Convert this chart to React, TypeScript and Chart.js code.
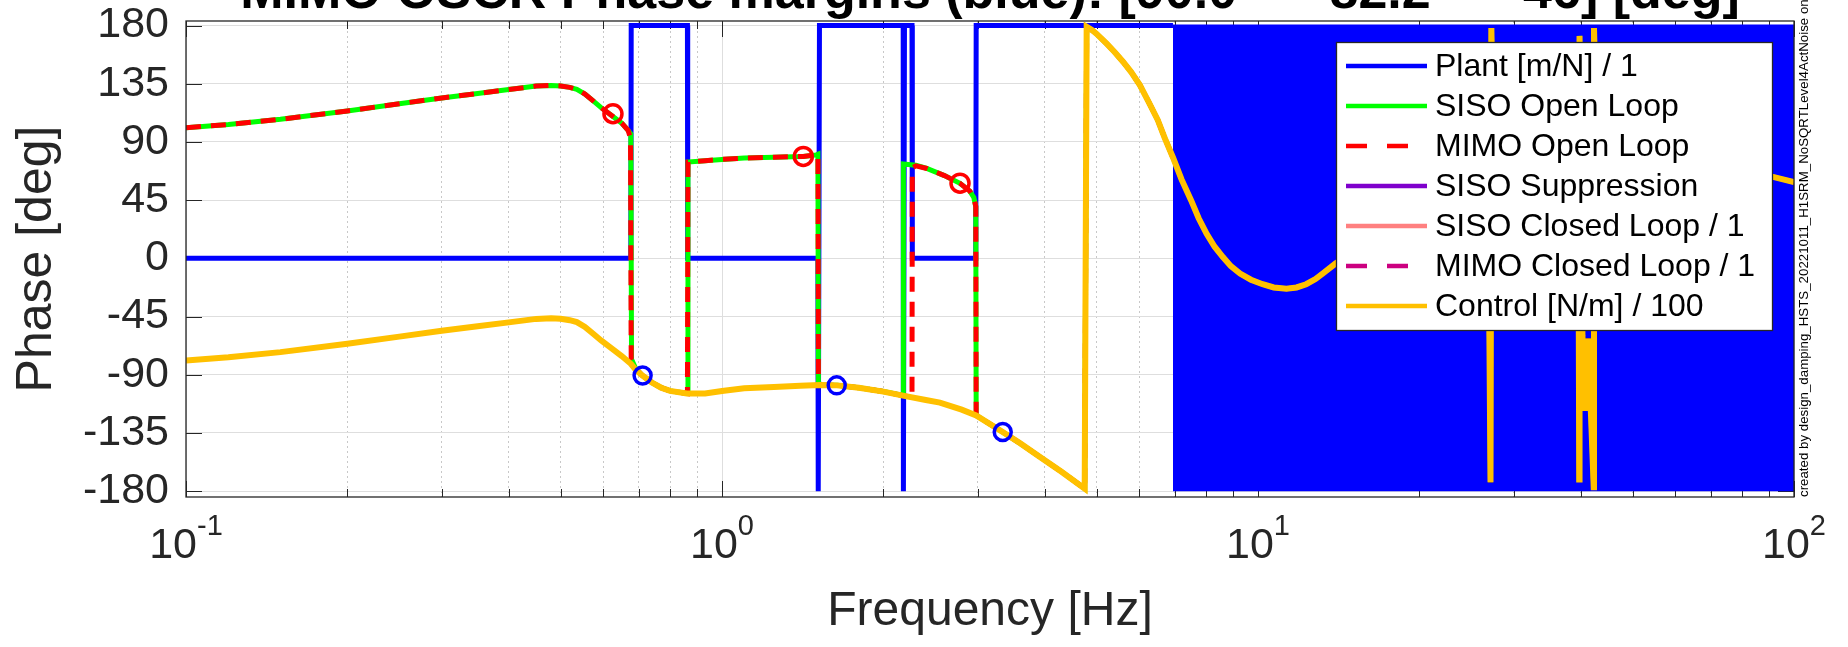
import React, { useEffect, useRef } from 'react';
import { Chart, registerables } from 'chart.js';

Chart.register(...registerables);

const FONT = "'Liberation Sans', Arial, Helvetica, sans-serif";
const INK = '#262626';

// ---------- data (frequency in Hz, phase in deg) ----------
const plantFreq = [0.1, 0.676, 0.677, 0.862, 0.863, 1.51, 1.512, 1.52, 2.178, 2.18, 2.19, 2.262, 2.265, 2.975, 2.98, 6.94];
const plantPhase = [0, 0, 180, 180, 0, 0, -180, 180, 180, -180, 180, 180, 0, 0, 180, 180];

// plant phase wraps between +180 and -180 densely above ~7 Hz
const plantWrapFreq = [6.94, 100];
const plantWrapTop = [180, 180];
const plantWrapBottom = -180;

const controlFreq = [0.1, 0.12, 0.15, 0.2, 0.25, 0.3, 0.35, 0.4, 0.45, 0.48, 0.5, 0.52, 0.536, 0.555, 0.575, 0.595, 0.618, 0.65, 0.676, 0.69, 0.71, 0.74, 0.77, 0.8, 0.86, 0.93, 1.0, 1.1, 1.25, 1.4, 1.52, 1.64, 1.8, 2.0, 2.2, 2.4, 2.55, 2.8, 2.98, 3.34, 3.6, 3.92, 4.3, 4.75, 4.79, 4.9, 5.0, 5.22, 5.4, 5.6, 5.8, 6.02, 6.25, 6.5, 6.7, 6.94, 7.2, 7.5, 7.75, 8.02, 8.3, 8.6, 8.9, 9.26, 9.7, 10.2, 10.7, 11.3, 11.8, 12.3, 12.8, 13.2, 13.95, 16, 20, 24, 26.9, 27.15, 27.25, 27.6, 32, 36, 39.6, 39.75, 39.8, 40.3, 40.8, 41.3, 41.8, 42.3, 42.35, 43, 50, 60, 75, 91.4, 100];
const controlPhase = [-79, -76.5, -72.5, -66, -60.5, -56, -52.5, -49.5, -46.8, -46.3, -46.7, -47.8, -49.3, -53, -58.3, -63.5, -68.6, -75.5, -81.5, -86, -90.5, -96, -100, -102.5, -104.5, -104.5, -102.5, -100.5, -99.5, -98.5, -98, -98.2, -100, -103, -106.5, -109.5, -111.5, -117, -121.4, -134.3, -143, -153.6, -165, -178, 179, 176.5, 173.5, 166, 159.5, 152, 144, 134, 121, 107, 93, 78, 61, 45, 31, 19, 9, 1, -6, -11.8, -16.5, -20, -22.5, -23.5, -22.5, -20, -16, -11.8, -4, 12, 30, 42, 48, -173, 178, 50, 58, 63, 65, -171, 172, -60, -118, -62, -120, -177, 178, 70, 72, 71, 67, 63, 59];

// open loop up to 2.98 Hz; above that it lies on the control curve
const sisoOLFreq = [0.1, 0.12, 0.15, 0.2, 0.25, 0.3, 0.35, 0.4, 0.45, 0.48, 0.5, 0.52, 0.536, 0.555, 0.575, 0.595, 0.618, 0.65, 0.668, 0.676, 0.678, 0.69, 0.71, 0.74, 0.77, 0.8, 0.862, 0.864, 0.93, 1.0, 1.1, 1.25, 1.418, 1.5, 1.51, 1.513, 1.53, 1.64, 1.8, 2.0, 2.178, 2.18, 2.3, 2.41, 2.6, 2.78, 2.9, 2.95, 2.975, 2.98];
const sisoOLPhase = [101, 103.5, 107.5, 114, 119.5, 124, 127.5, 130.5, 133.2, 133.7, 133.3, 132.2, 130.7, 127, 121.7, 116.5, 111.4, 104.5, 99, 96, -78, -85, -90.5, -96, -100, -102.5, -104.5, 74.5, 75.5, 76.5, 77.5, 78.2, 78.8, 80, 80.5, -96, -98, -98.2, -100, -103, -106, 73, 72, 69.5, 64, 58, 52, 47, 40, -121.4];

const mimoOLFreq = [0.1, 0.12, 0.15, 0.2, 0.25, 0.3, 0.35, 0.4, 0.45, 0.48, 0.5, 0.52, 0.536, 0.555, 0.575, 0.595, 0.618, 0.65, 0.668, 0.675, 0.677, 0.69, 0.71, 0.74, 0.77, 0.8, 0.862, 0.864, 0.93, 1.0, 1.1, 1.25, 1.418, 1.5, 1.51, 1.513, 1.53, 1.64, 1.8, 2.0, 2.2, 2.262, 2.265, 2.3, 2.41, 2.6, 2.78, 2.9, 2.95, 2.975, 2.98];
const mimoOLPhase = [101, 103.5, 107.5, 114, 119.5, 124, 127.5, 130.5, 133.2, 133.7, 133.3, 132.2, 130.7, 127, 121.7, 116.5, 111.4, 104.5, 99, 93, -78, -85, -90.5, -96, -100, -102.5, -104.5, 74.5, 75.5, 76.5, 77.5, 78.2, 78.8, 80, 80.5, -96, -98, -98.2, -100, -103, -106.5, -107.5, 70, 71.5, 69.5, 64, 58, 52, 47, 40, -121.4];

// phase-margin markers
const pmOLFreq = [0.626, 1.418, 2.78];
const pmOLPhase = [111.8, 78.8, 58.1];
const pmCtrlFreq = [0.711, 1.637, 3.34];
const pmCtrlPhase = [-90.5, -98.2, -134.3];

// axes
const yTicks = [-180, -135, -90, -45, 0, 45, 90, 135, 180];
const xMajorTicks = [0.1, 1, 10, 100];
const xTickExponents = ['-1', '0', '1', '2'];
const xMinorTicks = [0.2, 0.3, 0.4, 0.5, 0.6, 0.7, 0.8, 0.9, 2, 3, 4, 5, 6, 7, 8, 9, 20, 30, 40, 50, 60, 70, 80, 90];

const legendLabels = ['Plant [m/N] / 1', 'SISO Open Loop', 'MIMO Open Loop', 'SISO Suppression', 'SISO Closed Loop / 1', 'MIMO Closed Loop / 1', 'Control [N/m] / 100'];
const legendColors = ['#0000FF', '#00FF00', '#FF0000', '#7F00CC', '#FF8080', '#CC0080', '#FFC000'];
const legendDashed = [false, false, true, false, false, true, false];

const titleText = 'MIMO OSCR Phase margins (blue): [90.0  --  82.2  --  46] [deg]';
const sideText = 'created by design_damping_HSTS_20221011_H1SRM_NoSQRTLevel4ActNoise on 11-Oct-2022 10:20:00';

const pts = (f: number[], p: number[]) => f.map((v, i) => ({ x: v, y: p[i] }));

const matlabPlugin = {
  id: 'matlabAxes',
  beforeDatasetsDraw(chart: any) {
    const { ctx, chartArea: ca, scales } = chart;
    const xs = scales.x;
    const ys = scales.y;
    ctx.save();
    ctx.strokeStyle = INK;
    ctx.lineWidth = 1;
    const seg = (a: number, b: number, c: number, d: number) => {
      ctx.beginPath();
      ctx.moveTo(a, b);
      ctx.lineTo(c, d);
      ctx.stroke();
    };
    for (const v of yTicks) {
      const py = Math.round(ys.getPixelForValue(v)) + 0.5;
      seg(ca.left, py, ca.left + 16, py);
      seg(ca.right, py, ca.right - 16, py);
    }
    for (const v of xMajorTicks) {
      const px = Math.round(xs.getPixelForValue(v)) + 0.5;
      seg(px, ca.bottom, px, ca.bottom - 16);
      seg(px, ca.top, px, ca.top + 16);
    }
    for (const v of xMinorTicks) {
      const px = Math.round(xs.getPixelForValue(v)) + 0.5;
      seg(px, ca.bottom, px, ca.bottom - 8);
      seg(px, ca.top, px, ca.top + 8);
    }
    ctx.restore();
  },
  afterDraw(chart: any) {
    const { ctx, chartArea: ca, scales } = chart;
    const xs = scales.x;
    ctx.save();
    // frame
    ctx.strokeStyle = INK;
    ctx.lineWidth = 1.3;
    ctx.strokeRect(ca.left, ca.top, ca.right - ca.left, ca.bottom - ca.top);

    // x tick labels 10^n
    ctx.fillStyle = INK;
    ctx.textAlign = 'left';
    ctx.textBaseline = 'alphabetic';
    xMajorTicks.forEach((v, i) => {
      const px = xs.getPixelForValue(v);
      ctx.font = `43px ${FONT}`;
      const w1 = ctx.measureText('10').width;
      ctx.font = `29px ${FONT}`;
      const w2 = ctx.measureText(xTickExponents[i]).width;
      const left = px - (w1 + w2) / 2;
      ctx.font = `43px ${FONT}`;
      ctx.fillText('10', left, ca.bottom + 61);
      ctx.font = `29px ${FONT}`;
      ctx.fillText(xTickExponents[i], left + w1, ca.bottom + 38);
    });

    // legend
    const lx = 1336, ly = 42, lw = 436, lh = 288;
    ctx.fillStyle = '#ffffff';
    ctx.fillRect(lx, ly, lw, lh);
    ctx.strokeStyle = INK;
    ctx.lineWidth = 1.3;
    ctx.strokeRect(lx + 0.5, ly + 0.5, lw, lh);
    legendLabels.forEach((lab, i) => {
      const cy = ly + 24 + i * 40;
      ctx.strokeStyle = legendColors[i];
      ctx.lineWidth = 4.5;
      ctx.setLineDash(legendDashed[i] ? [21, 20] : []);
      ctx.beginPath();
      ctx.moveTo(lx + 10, cy);
      ctx.lineTo(lx + 91, cy);
      ctx.stroke();
      ctx.setLineDash([]);
      ctx.fillStyle = '#000000';
      ctx.font = `32px ${FONT}`;
      ctx.textBaseline = 'middle';
      ctx.fillText(lab, lx + 99, cy + 1);
    });

    // title (mostly above the visible page)
    ctx.fillStyle = '#000000';
    ctx.font = `bold 52px ${FONT}`;
    ctx.textAlign = 'center';
    ctx.textBaseline = 'alphabetic';
    ctx.fillText(titleText, (ca.left + ca.right) / 2, 8);

    // side note
    ctx.save();
    ctx.translate(1808, ca.bottom);
    ctx.rotate(-Math.PI / 2);
    ctx.font = `13.3px ${FONT}`;
    ctx.textAlign = 'left';
    ctx.fillStyle = '#000000';
    ctx.fillText(sideText, 0, 0);
    ctx.restore();

    ctx.restore();
  },
};

export default function App() {
  const ref = useRef<HTMLCanvasElement>(null);
  useEffect(() => {
    const controlPts = pts(controlFreq, controlPhase);
    const tail = controlPts.filter((q) => q.x > 2.98);
    const chart = new Chart(ref.current as HTMLCanvasElement, {
      type: 'line',
      data: {
        datasets: [
          { label: 'pm-ol', data: pts(pmOLFreq, pmOLPhase), showLine: false, pointRadius: 9, pointBorderWidth: 3.5, pointBorderColor: '#FF0000', pointBackgroundColor: 'rgba(0,0,0,0)', borderColor: '#FF0000', order: 0 },
          { label: 'pm-ctrl', data: pts(pmCtrlFreq, pmCtrlPhase), showLine: false, pointRadius: 8.5, pointBorderWidth: 3.5, pointBorderColor: '#0000FF', pointBackgroundColor: 'rgba(0,0,0,0)', borderColor: '#0000FF', order: 0 },
          { label: legendLabels[6], data: controlPts, borderColor: legendColors[6], borderWidth: 6, order: 2 },
          { label: legendLabels[5], data: [], borderColor: legendColors[5], borderWidth: 5, borderDash: [15, 10], order: 3 },
          { label: legendLabels[4], data: [], borderColor: legendColors[4], borderWidth: 5, order: 4 },
          { label: legendLabels[3], data: [], borderColor: legendColors[3], borderWidth: 5, order: 5 },
          { label: legendLabels[2], data: [...pts(mimoOLFreq, mimoOLPhase), ...tail], borderColor: legendColors[2], borderWidth: 5, borderDash: [15, 10], order: 6 },
          { label: legendLabels[1], data: [...pts(sisoOLFreq, sisoOLPhase), ...tail], borderColor: legendColors[1], borderWidth: 5, order: 7 },
          { label: legendLabels[0], data: pts(plantFreq, plantPhase), borderColor: legendColors[0], borderWidth: 5, order: 8 },
          { label: 'plant-wrap', data: pts(plantWrapFreq, plantWrapTop), borderColor: legendColors[0], backgroundColor: legendColors[0], borderWidth: 2, fill: { value: plantWrapBottom }, order: 9 },
        ] as any,
      },
      options: {
        animation: false,
        responsive: false,
        events: [],
        layout: { padding: { left: 0, top: 21, right: 54, bottom: 0 } },
        elements: { point: { radius: 0 }, line: { tension: 0, borderJoinStyle: 'miter' } },
        plugins: { legend: { display: false }, title: { display: false }, tooltip: { enabled: false } },
        scales: {
          x: {
            type: 'logarithmic',
            min: 0.1,
            max: 100,
            position: 'bottom',
            afterBuildTicks: (s: any) => { s.ticks = xMajorTicks.map((v) => ({ value: v, major: true })); },
            afterFit: (s: any) => { s.height = 150; s.paddingLeft = 0; s.paddingRight = 0; },
            ticks: { display: false },
            grid: { color: '#dedede', lineWidth: 1, drawTicks: false },
            border: { display: false },
            title: { display: true, text: 'Frequency [Hz]', color: INK, font: { family: FONT, size: 48 }, padding: { top: 0, bottom: 6 } },
          },
          xMinor: {
            axis: 'x',
            type: 'logarithmic',
            min: 0.1,
            max: 100,
            position: 'bottom',
            afterBuildTicks: (s: any) => { s.ticks = xMinorTicks.map((v) => ({ value: v })); },
            afterFit: (s: any) => { s.height = 0; s.paddingLeft = 0; s.paddingRight = 0; },
            ticks: { display: false },
            grid: { color: '#c8c8c8', lineWidth: 1, drawTicks: false },
            border: { display: false, dash: [2, 3] },
          },
          y: {
            type: 'linear',
            min: -184.5,
            max: 183.5,
            afterBuildTicks: (s: any) => { s.ticks = yTicks.map((v) => ({ value: v })); },
            afterFit: (s: any) => { s.width = 186; s.paddingTop = 0; s.paddingBottom = 0; },
            ticks: { color: INK, font: { family: FONT, size: 43 }, padding: 17, callback: (v: any) => String(v) },
            grid: { color: '#dedede', lineWidth: 1, drawTicks: false },
            border: { display: false },
            title: { display: true, text: 'Phase [deg]', color: INK, font: { family: FONT, size: 50 }, padding: { top: 7, bottom: 0 } },
          },
        },
      } as any,
      plugins: [matlabPlugin],
    });
    return () => chart.destroy();
  }, []);
  return (
    <div style={{ position: 'fixed', left: 0, top: 0, width: 1848, height: 647, background: '#ffffff' }}>
      <canvas ref={ref} width={1848} height={647} style={{ display: 'block' }} />
    </div>
  );
}
